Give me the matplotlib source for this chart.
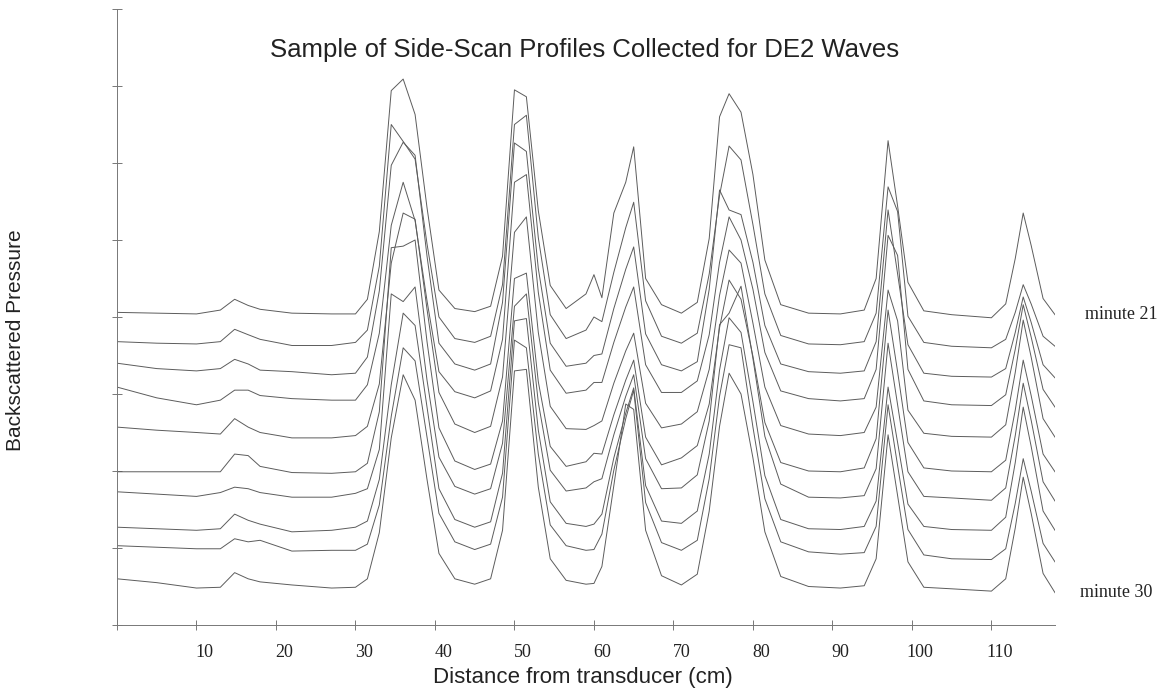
import matplotlib
matplotlib.use("Agg")
import matplotlib.pyplot as plt
from matplotlib.transforms import ScaledTranslation

# Sample positions along the scan line (cm from the transducer)
distance_cm = [0, 5, 10, 13, 14.8, 16.5, 18, 22, 27, 30,
               31.5, 33, 34.5, 36, 37.5, 39, 40.5, 42.5, 45, 47,
               48.5, 50, 51.5, 53, 54.5, 56.5, 59, 60, 61, 62.5,
               64, 65, 66.5, 68.5, 71, 73, 74.5, 75.8, 77, 78.5,
               80, 81.5, 83.5, 87, 91, 94, 95.5, 97, 98.2, 99.5,
               101.5, 105, 110, 111.8, 113, 114, 115, 116.5, 118]

# Stacked backscatter profiles, one per minute (already offset for the waterfall)
minute_21 = [4.06, 4.05, 4.04, 4.09, 4.23, 4.15, 4.10, 4.05, 4.04, 4.04,
             4.23, 5.11, 6.94, 7.09, 6.63, 5.42, 4.35, 4.11, 4.07, 4.14,
             4.79, 6.95, 6.86, 5.38, 4.41, 4.11, 4.30, 4.55, 4.25, 5.35,
             5.75, 6.21, 4.50, 4.16, 4.05, 4.19, 5.02, 6.60, 6.90, 6.66,
             5.85, 4.74, 4.16, 4.05, 4.04, 4.09, 4.50, 6.29, 5.44, 4.45,
             4.08, 4.03, 3.99, 4.17, 4.76, 5.35, 4.93, 4.24, 4.03]
minute_22 = [3.68, 3.66, 3.65, 3.68, 3.84, 3.77, 3.71, 3.63, 3.63, 3.67,
             3.83, 4.66, 6.50, 6.28, 6.05, 4.95, 4.00, 3.72, 3.67, 3.75,
             4.42, 6.50, 6.62, 5.03, 4.03, 3.72, 3.83, 4.00, 3.94, 4.58,
             5.16, 5.49, 4.21, 3.75, 3.66, 3.79, 4.56, 5.58, 6.22, 6.04,
             5.20, 4.30, 3.76, 3.65, 3.64, 3.68, 4.05, 5.69, 5.37, 4.01,
             3.67, 3.62, 3.60, 3.71, 4.06, 4.42, 4.17, 3.75, 3.62]
minute_23 = [3.40, 3.33, 3.30, 3.33, 3.45, 3.39, 3.31, 3.29, 3.25, 3.27,
             3.48, 4.34, 5.97, 6.27, 6.10, 4.79, 3.66, 3.39, 3.31, 3.39,
             4.19, 6.26, 6.15, 4.63, 3.66, 3.36, 3.40, 3.50, 3.52, 4.11,
             4.62, 4.91, 3.78, 3.38, 3.30, 3.42, 4.36, 5.65, 5.39, 5.33,
             4.71, 3.89, 3.39, 3.29, 3.27, 3.30, 3.68, 5.39, 4.56, 3.64,
             3.27, 3.23, 3.22, 3.33, 3.80, 4.26, 3.93, 3.38, 3.21]
minute_24 = [3.09, 2.95, 2.86, 2.92, 3.05, 3.05, 2.98, 2.94, 2.92, 2.92,
             3.12, 3.79, 5.19, 5.75, 5.25, 4.21, 3.29, 3.03, 2.95, 3.04,
             3.71, 5.75, 5.85, 4.32, 3.31, 3.01, 3.05, 3.15, 3.15, 3.67,
             4.13, 4.39, 3.38, 3.02, 3.02, 3.17, 3.77, 4.71, 5.30, 5.00,
             4.36, 3.54, 3.04, 2.94, 2.91, 2.94, 3.32, 5.06, 4.80, 3.32,
             2.91, 2.86, 2.85, 2.99, 3.58, 4.16, 3.74, 3.06, 2.83]
minute_25 = [2.57, 2.53, 2.50, 2.48, 2.68, 2.57, 2.50, 2.43, 2.43, 2.46,
             2.58, 3.13, 4.70, 5.35, 5.27, 4.10, 3.02, 2.61, 2.50, 2.58,
             3.22, 5.10, 5.30, 3.80, 2.84, 2.55, 2.54, 2.59, 2.65, 3.14,
             3.56, 3.79, 2.88, 2.56, 2.61, 2.77, 3.32, 4.28, 4.87, 4.70,
             3.92, 3.09, 2.59, 2.48, 2.46, 2.50, 2.83, 4.35, 3.95, 2.79,
             2.49, 2.45, 2.44, 2.60, 3.28, 3.96, 3.48, 2.68, 2.44]
minute_26 = [1.99, 1.99, 1.99, 1.99, 2.22, 2.20, 2.06, 1.98, 1.97, 1.99,
             2.10, 2.77, 4.90, 4.92, 5.00, 3.68, 2.56, 2.13, 2.02, 2.09,
             2.65, 4.50, 4.57, 3.16, 2.32, 2.06, 2.12, 2.23, 2.22, 2.73,
             3.18, 3.44, 2.44, 2.08, 2.17, 2.33, 2.87, 3.86, 4.48, 4.23,
             3.49, 2.63, 2.11, 2.00, 1.99, 2.04, 2.42, 4.09, 3.29, 2.37,
             2.04, 2.00, 1.99, 2.14, 2.79, 3.44, 2.98, 2.22, 1.99]
minute_27 = [1.73, 1.70, 1.67, 1.72, 1.79, 1.77, 1.72, 1.66, 1.66, 1.71,
             1.77, 2.28, 4.30, 4.20, 4.39, 3.18, 2.18, 1.80, 1.70, 1.77,
             2.36, 4.14, 4.30, 2.89, 2.01, 1.74, 1.78, 1.86, 1.90, 2.47,
             2.97, 3.25, 2.16, 1.77, 1.78, 1.95, 2.65, 3.90, 4.05, 4.40,
             3.46, 2.45, 1.83, 1.66, 1.65, 1.68, 2.03, 3.66, 2.86, 1.99,
             1.67, 1.65, 1.62, 1.78, 2.46, 3.14, 2.66, 1.86, 1.61]
minute_28 = [1.27, 1.25, 1.23, 1.25, 1.44, 1.36, 1.31, 1.21, 1.23, 1.27,
             1.35, 1.89, 3.12, 4.05, 3.89, 2.83, 1.77, 1.37, 1.27, 1.34,
             1.97, 3.95, 3.98, 2.53, 1.60, 1.32, 1.28, 1.31, 1.44, 2.17,
             2.75, 3.08, 1.81, 1.35, 1.32, 1.48, 2.22, 3.31, 3.99, 3.80,
             2.90, 1.94, 1.37, 1.25, 1.24, 1.28, 1.61, 3.09, 2.37, 1.57,
             1.28, 1.24, 1.23, 1.40, 2.11, 2.83, 2.32, 1.48, 1.23]
minute_29 = [1.03, 1.01, 0.99, 0.99, 1.12, 1.08, 1.10, 0.96, 0.97, 0.97,
             1.05, 1.56, 2.71, 3.60, 3.43, 2.44, 1.45, 1.08, 0.98, 1.05,
             1.66, 3.70, 3.60, 2.22, 1.30, 1.03, 0.97, 0.98, 1.18, 2.01,
             2.68, 3.05, 1.59, 1.07, 0.97, 1.10, 1.90, 2.97, 3.64, 3.60,
             2.57, 1.64, 1.08, 0.95, 0.92, 0.94, 1.28, 2.86, 2.07, 1.24,
             0.91, 0.86, 0.85, 0.99, 1.58, 2.16, 1.74, 1.06, 0.82]
minute_30 = [0.60, 0.55, 0.48, 0.49, 0.68, 0.60, 0.56, 0.52, 0.48, 0.49,
             0.60, 1.20, 2.43, 3.25, 2.92, 1.89, 0.93, 0.60, 0.53, 0.60,
             1.23, 3.30, 3.32, 1.79, 0.86, 0.58, 0.53, 0.54, 0.76, 1.81,
             2.87, 2.80, 1.23, 0.64, 0.52, 0.66, 1.48, 2.58, 3.27, 3.00,
             2.17, 1.21, 0.63, 0.50, 0.48, 0.51, 0.86, 2.47, 1.68, 0.82,
             0.49, 0.47, 0.44, 0.60, 1.26, 1.92, 1.45, 0.67, 0.42]

profiles = [minute_21, minute_22, minute_23, minute_24, minute_25,
            minute_26, minute_27, minute_28, minute_29, minute_30]

x_ticks = [0, 10, 20, 30, 40, 50, 60, 70, 80, 90, 100, 110]
x_tick_labels = ['', '10', '20', '30', '40', '50', '60', '70', '80', '90', '100', '110']
y_ticks = [0, 1, 2, 3, 4, 5, 6, 7, 8]

sans = 'Liberation Sans'
serif = 'Liberation Serif'
line_color = '#5c5c5c'
text_color = '#222222'

fig = plt.figure(figsize=(11.67, 6.9), dpi=100, facecolor='white')
ax = fig.add_axes([117 / 1167, 65 / 690, 938 / 1167, 616 / 690])

for prof in profiles:
    ax.plot(distance_cm, prof, color=line_color, linewidth=0.7)

ax.set_xlim(0, 118)
ax.set_ylim(0, 8)

ax.set_xticks(x_ticks)
ax.set_xticklabels(x_tick_labels, fontsize=13, family=serif, color=text_color)
ax.set_yticks(y_ticks)
ax.set_yticklabels([])
ax.tick_params(direction='inout', length=7, width=0.7, color='#777777')
ax.tick_params(axis='x', pad=10)

# the printed tick numbers sit a little right of their ticks
shift = ScaledTranslation(6 / 72, 0, fig.dpi_scale_trans)
for lbl in ax.get_xticklabels():
    lbl.set_transform(lbl.get_transform() + shift)

for side in ['top', 'right']:
    ax.spines[side].set_visible(False)
for side in ['left', 'bottom']:
    ax.spines[side].set_color('#777777')
    ax.spines[side].set_linewidth(0.7)

# first and last profile get their minute tags at the right end
ax.text(121.8, minute_21[-1], 'minute 21', ha='left', va='center',
        fontsize=13, family=serif, color=text_color, clip_on=False)
ax.text(121.2, minute_30[-1], 'minute 30', ha='left', va='center',
        fontsize=13, family=serif, color=text_color, clip_on=False)

fig.text(585 / 1167, 1 - 50 / 690, 'Sample of Side-Scan Profiles Collected for DE2 Waves',
         ha='center', va='center', fontsize=18.5, family=sans, color=text_color)
fig.text(583 / 1167, 1 - 677 / 690, 'Distance from transducer (cm)',
         ha='center', va='center', fontsize=16, family=sans, color=text_color)
fig.text(16 / 1167, 1 - 340 / 690, 'Backscattered Pressure', rotation=90,
         ha='center', va='center', fontsize=15, family=sans, color=text_color)

fig.savefig('out.png', dpi=100, facecolor='white')
